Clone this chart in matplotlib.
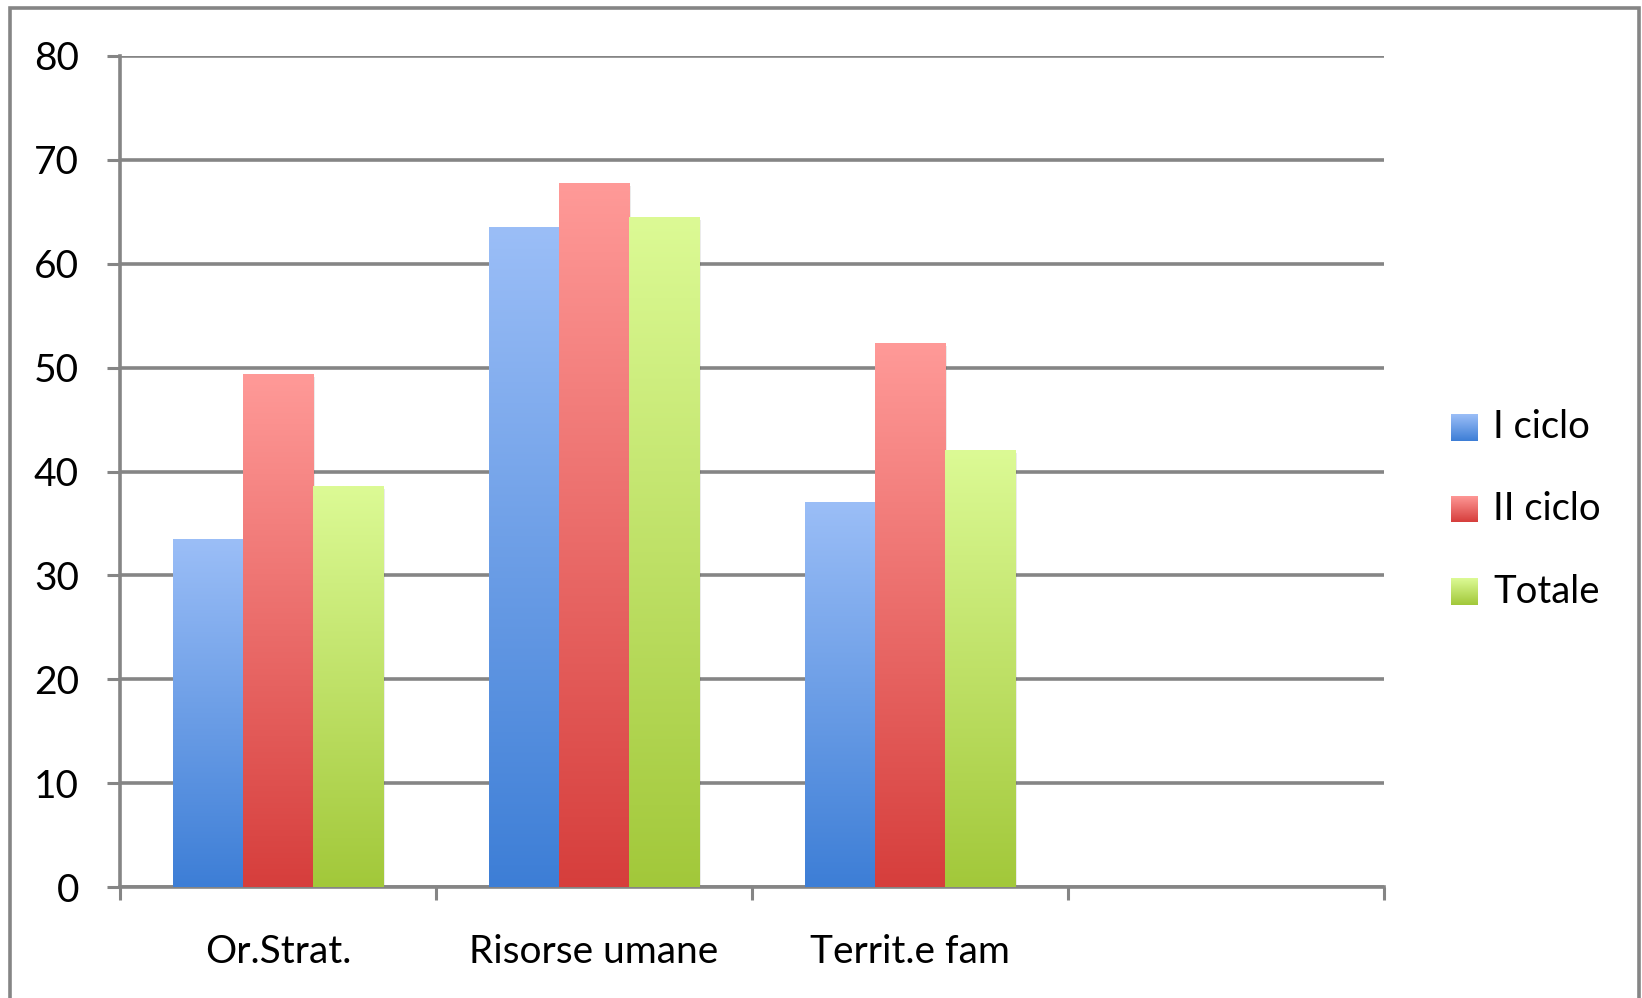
import numpy as np
import matplotlib.pyplot as plt
from matplotlib.colors import LinearSegmentedColormap
from matplotlib.patches import Rectangle

categories = ["Or.Strat.", "Risorse umane", "Territ.e fam", ""]
series = ["I ciclo", "II ciclo", "Totale"]
i_ciclo = [33.5, 63.5, 37.1]
ii_ciclo = [49.4, 67.8, 52.4]
totale = [38.6, 64.5, 42.1]

# light (top) / dark (bottom) shades for each series
shades = [("#9bbef7", "#3d7ed6"), ("#ff9a98", "#d63e3c"), ("#dcfa95", "#a2c83a")]

plt.rcParams['font.family'] = ['Lato', 'DejaVu Sans']

fig = plt.figure(figsize=(16.42, 9.98), dpi=100)
ax = fig.add_axes([0.0731, 0.1112, 0.7699, 0.8327])

grid_col = "#858585"
n_slots = len(categories)

bw = 0.222
values = [i_ciclo, ii_ciclo, totale]
for s, vals in enumerate(values):
    cmap = LinearSegmentedColormap.from_list("g%d" % s, [shades[s][1], shades[s][0]])
    grad = np.linspace(0, 1, 256).reshape(-1, 1)
    for i, v in enumerate(vals):
        x0 = i + 0.5 - 1.5 * bw + s * bw
        # soft drop shadow
        ax.add_patch(Rectangle((x0 + 0.006, -0.3), bw, v, color="#000000",
                               alpha=0.08, lw=0, zorder=2))
        rect = Rectangle((x0, 0), bw, v, facecolor="none", edgecolor="none", zorder=3)
        ax.add_patch(rect)
        im = ax.imshow(grad, cmap=cmap, origin="lower", aspect="auto",
                       extent=[x0, x0 + bw, 0, v], zorder=3, interpolation="bilinear")
        im.set_clip_path(rect)

ax.set_xlim(0, n_slots)
ax.set_ylim(0, 80)

ax.set_yticks(range(0, 81, 10))
ax.yaxis.grid(True, color=grid_col, lw=2.6)
ax.set_axisbelow(True)
ax.set_xticks(range(0, n_slots + 1))
ax.set_xticklabels([])
ax.set_xticks([i + 0.5 for i in range(n_slots)], minor=True)
ax.set_xticklabels(categories, minor=True)
ax.tick_params(axis="x", which="minor", length=0, pad=34, labelsize=28)
ax.tick_params(axis="x", which="major", length=9.5, width=2.2, color=grid_col)
ax.tick_params(axis="y", length=9.5, width=2.2, color=grid_col, labelsize=28, pad=20)

for side in ["top", "right"]:
    ax.spines[side].set_visible(False)
for side in ["left", "bottom"]:
    ax.spines[side].set_color(grid_col)
    ax.spines[side].set_linewidth(2.6)

# legend with gradient swatches
leg_y = [0.572, 0.490, 0.407]
for s, name in enumerate(series):
    cmap = LinearSegmentedColormap.from_list("l%d" % s, [shades[s][1], shades[s][0]])
    sw = fig.add_axes([1451 / 1642, leg_y[s] - 0.0135, 27 / 1642, 0.027])
    sw.imshow(np.linspace(0, 1, 64).reshape(-1, 1), cmap=cmap, origin="lower",
              aspect="auto", interpolation="bilinear")
    sw.axis("off")
    fig.text(1493 / 1642, leg_y[s], name, fontsize=27.5, va="center", ha="left")

# outer frame
fig.add_artist(Rectangle((10 / 1642, -0.05), 1629 / 1642, 1.05 - 8 / 998,
                         transform=fig.transFigure, fill=False,
                         edgecolor=grid_col, lw=2.6))

fig.savefig("out.png", dpi=100)
